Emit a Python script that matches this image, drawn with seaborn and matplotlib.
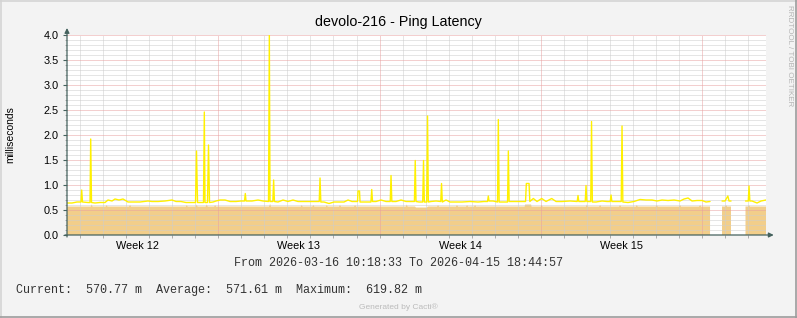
import numpy as np
import pandas as pd
import matplotlib
matplotlib.use("Agg")
import matplotlib.pyplot as plt
import seaborn as sns
from matplotlib.lines import Line2D
from matplotlib.ticker import FormatStrFormatter

sns.set_theme(style="white")
plt.rcParams["font.family"] = ["Liberation Sans", "DejaVu Sans"]

# ---------------- data ----------------
title = "devolo-216 - Ping Latency"
y_label = "milliseconds"
period_text = "From 2026-03-16 10:18:33 To 2026-04-15 18:44:57"
stats_text = "Current:  570.77 m  Average:  571.61 m  Maximum:  619.82 m"
footer_text = "Generated by Cacti\u00ae"
side_text = "RRDTOOL / TOBI OETIKER"

# x in days since 2026-03-16 00:00
x_start, x_end = 0.43, 30.78
week_labels = ["Week 12", "Week 13", "Week 14", "Week 15"]
week_centers = [3.5, 10.5, 17.5, 24.5]
week_bounds = [7, 14, 21, 28]

# yellow line (ping latency, ms) - three segments separated by data gaps
line1_day = [0.43, 0.647, 0.864, 1.038, 1.068, 1.103, 1.342, 1.429, 1.459, 1.494, 1.646, 1.863,
             2.080, 2.210, 2.384, 2.514, 2.688, 2.862, 3.079, 3.252, 3.600, 3.947, 4.121, 4.381,
             4.685, 4.989, 5.163, 5.380, 5.597, 5.858, 6.010, 6.053, 6.097, 6.205, 6.357, 6.392,
             6.422, 6.531, 6.574, 6.618, 6.770, 6.900, 7.074, 7.291, 7.508, 7.769, 7.985, 8.137,
             8.172, 8.203, 8.463, 8.724, 8.941, 9.180, 9.215, 9.245, 9.367, 9.402, 9.436, 9.592,
             9.809, 10.026, 10.243, 10.460, 10.721, 10.982, 11.155, 11.381, 11.416, 11.451, 11.589,
             11.806, 12.023, 12.284, 12.458, 12.632, 12.805, 13.044, 13.066, 13.131, 13.153, 13.326,
             13.500, 13.626, 13.661, 13.695, 13.847, 14.064, 14.282, 14.464, 14.499, 14.534, 14.716,
             14.933, 15.150, 15.324, 15.515, 15.550, 15.584, 15.715, 15.875, 15.910, 15.945, 16.049,
             16.084, 16.119, 16.235, 16.453, 16.657, 16.692, 16.726, 16.887, 17.061, 17.278, 17.581,
             17.929, 18.276, 18.537, 18.689, 18.723, 18.754, 18.928, 19.123, 19.158, 19.193, 19.362,
             19.558, 19.593, 19.627, 19.797, 20.014, 20.188, 20.340, 20.374, 20.492, 20.526, 20.678,
             20.838, 21.042, 21.229, 21.476, 21.663, 21.923, 22.271, 22.583, 22.618, 22.653, 22.792,
             22.931, 22.966, 23.001, 23.170, 23.205, 23.240, 23.400, 23.661, 23.878, 24.017, 24.052,
             24.087, 24.268, 24.494, 24.529, 24.564, 24.790, 25.050, 25.311, 25.572, 25.832, 26.049,
             26.266, 26.527, 26.787, 27.048, 27.222, 27.395, 27.569, 27.786, 28.003, 28.176, 28.350]
line1_ms = [0.64, 0.64, 0.66, 0.66, 0.90, 0.66, 0.65, 0.65, 1.92, 0.65, 0.64, 0.65,
            0.65, 0.70, 0.68, 0.72, 0.70, 0.72, 0.66, 0.66, 0.66, 0.68, 0.67, 0.67,
            0.68, 0.70, 0.67, 0.67, 0.65, 0.65, 0.65, 1.68, 0.65, 0.65, 0.65, 2.46,
            0.65, 0.65, 1.80, 0.65, 0.66, 0.68, 0.70, 0.70, 0.67, 0.67, 0.68, 0.68,
            0.83, 0.68, 0.68, 0.70, 0.68, 0.67, 4.00, 0.67, 0.67, 1.10, 0.67, 0.66,
            0.70, 0.67, 0.70, 0.67, 0.67, 0.67, 0.67, 0.67, 1.14, 0.66, 0.66,
            0.63, 0.66, 0.66, 0.66, 0.70, 0.67, 0.67, 0.88, 0.88, 0.66, 0.66,
            0.66, 0.66, 0.91, 0.67, 0.67, 0.70, 0.67, 0.67, 1.19, 0.67, 0.67,
            0.70, 0.67, 0.67, 0.67, 1.49, 0.67, 0.66, 0.66, 1.49, 0.66, 0.66,
            2.38, 0.66, 0.67, 0.68, 0.67, 1.03, 0.66, 0.70, 0.66, 0.66, 0.66,
            0.67, 0.66, 0.67, 0.67, 0.78, 0.68, 0.68, 0.66, 2.31, 0.66, 0.66,
            0.66, 1.68, 0.67, 0.67, 0.67, 0.67, 0.67, 1.03, 1.03, 0.67, 0.73,
            0.67, 0.73, 0.67, 0.73, 0.67, 0.67, 0.68, 0.67, 0.79, 0.67, 0.67,
            0.67, 0.99, 0.67, 0.67, 2.27, 0.66, 0.66, 0.68, 0.67, 0.67, 0.80,
            0.67, 0.67, 0.67, 2.18, 0.66, 0.65, 0.67, 0.71, 0.70, 0.70, 0.68,
            0.70, 0.69, 0.70, 0.68, 0.72, 0.74, 0.68, 0.69, 0.69, 0.66, 0.67]
line2_day = [28.871, 29.001, 29.123, 29.175, 29.262]
line2_ms = [0.68, 0.68, 0.78, 0.68, 0.68]
line3_day = [29.892, 30.010, 30.044, 30.079, 30.174, 30.391, 30.565, 30.782]
line3_ms = [0.68, 0.68, 0.98, 0.68, 0.68, 0.64, 0.68, 0.70]

# orange area (ms); NaN marks missing data
area_day = [0.43, 1.46, 1.50, 1.54, 2.11, 2.15, 2.19, 3.12, 3.17, 3.21, 5.59, 5.63, 5.67,
            6.02, 6.06, 6.10, 6.45, 6.50, 6.54, 6.82, 6.86, 6.90, 9.20, 9.25, 9.29,
            10.58, 10.62, 10.66, 11.08, 11.13, 11.17, 11.67, 11.71, 11.75, 12.24, 12.28, 12.33,
            12.89, 12.94, 12.98, 15.14, 15.18, 15.22, 15.54, 15.58, 16.06, 16.10,
            16.50, 16.54, 16.58, 17.32, 17.36, 17.41, 17.76, 17.80, 17.84, 18.10, 18.15, 18.19,
            20.30, 20.32, 20.58, 20.60, 21.00, 21.04, 21.08, 22.96, 23.00, 23.04,
            23.53, 23.58, 23.62, 24.40, 24.44, 24.49, 25.13, 25.17, 25.21, 25.99, 26.04, 26.08,
            27.00, 27.05, 27.09, 27.87, 27.92, 27.96, 28.35, 28.60,
            28.87, 29.00, 29.05, 29.09, 29.26, 29.50,
            29.89, 30.00, 30.04, 30.08, 30.78]
area_ms = [0.57, 0.57, 0.61, 0.57, 0.57, 0.60, 0.57, 0.57, 0.60, 0.57, 0.57, 0.60, 0.57,
           0.57, 0.61, 0.57, 0.57, 0.61, 0.57, 0.57, 0.60, 0.57, 0.57, 0.62, 0.57,
           0.57, 0.60, 0.57, 0.57, 0.60, 0.57, 0.57, 0.60, 0.57, 0.57, 0.60, 0.57,
           0.57, 0.60, 0.57, 0.57, 0.61, 0.57, 0.57, 0.55, 0.55, 0.57,
           0.57, 0.60, 0.57, 0.57, 0.60, 0.57, 0.57, 0.60, 0.57, 0.57, 0.60, 0.57,
           0.57, 0.61, 0.61, 0.57, 0.57, 0.60, 0.57, 0.57, 0.61, 0.57,
           0.57, 0.60, 0.57, 0.57, 0.60, 0.57, 0.57, 0.60, 0.57, 0.57, 0.60, 0.57,
           0.57, 0.60, 0.57, 0.57, 0.60, 0.57, 0.57, np.nan,
           0.57, 0.57, 0.60, 0.57, 0.57, np.nan,
           0.57, 0.57, 0.60, 0.57, 0.57]

# ---------------- styling ----------------
BG = "#F3F3F3"
AXIS_C = "#45625E"
MINOR_GRID = "#CDCDCD"
MAJOR_GRID = "#E9A0A0"
AREA_C = "#F2CE8A"
LINE_C = "#FFF000"

W, H = 797, 318
fig = plt.figure(figsize=(W / 100, H / 100), dpi=100, facecolor=BG)
L, R, T, B = 67, 766, 35, 235
ax = fig.add_axes([L / W, 1 - B / H, (R - L) / W, (B - T) / H])
ax.set_facecolor("white")

# area
area_x = np.array(area_day, dtype=float)
area_y = np.array(area_ms, dtype=float)
ax.fill_between(area_x, 0, area_y, color=AREA_C, linewidth=0, zorder=1)

# grid (drawn over the area, below the line)
for d in range(1, 31):
    if d not in week_bounds:
        ax.axvline(d, color=MINOR_GRID, lw=0.72, ls=(0, (1, 1)), zorder=1.5)
for v in np.round(np.arange(0.1, 4.01, 0.1), 1):
    if abs(v * 2 - round(v * 2)) > 1e-6:
        ax.axhline(v, color=MINOR_GRID, lw=0.72, ls=(0, (1, 1)), zorder=1.5)
for d in week_bounds:
    ax.axvline(d, color=MAJOR_GRID, lw=0.72, ls=(0, (1, 1)), zorder=1.6)
for v in [0.5, 1.0, 1.5, 2.0, 2.5, 3.0, 3.5, 4.0]:
    ax.axhline(v, color=MAJOR_GRID, lw=0.72, ls=(0, (1, 1)), zorder=1.6)

# line via seaborn
df = pd.concat([
    pd.DataFrame({"day": line1_day, "ms": line1_ms, "seg": 1}),
    pd.DataFrame({"day": line2_day, "ms": line2_ms, "seg": 2}),
    pd.DataFrame({"day": line3_day, "ms": line3_ms, "seg": 3}),
])
sns.lineplot(data=df, x="day", y="ms", units="seg", estimator=None, sort=False,
             color=LINE_C, lw=1.0, ax=ax, zorder=3, legend=False)

ax.set_xlim(x_start, x_end)
ax.set_ylim(0, 4.0)
for s in ax.spines.values():
    s.set_visible(False)
ax.set_xlabel("")
ax.set_ylabel("")

ax.set_yticks(np.arange(0, 4.01, 0.5))
ax.set_yticks(np.arange(0, 4.01, 0.1), minor=True)
ax.yaxis.set_major_formatter(FormatStrFormatter("%.1f"))
ax.tick_params(axis="y", which="major", length=3, width=0.8, color=AXIS_C, pad=3,
               labelsize=7.8, labelcolor="black", left=True)
ax.tick_params(axis="y", which="minor", length=1.5, width=0.6, color="#A0A0A0", left=True)

ax.set_xticks(week_centers)
ax.set_xticklabels(week_labels)
ax.set_xticks(list(range(1, 31)), minor=True)
ax.tick_params(axis="x", which="major", length=0, pad=4, labelsize=7.8, labelcolor="black")
ax.tick_params(axis="x", which="minor", length=2, width=0.6, color="#A0A0A0", bottom=True)
ax.grid(False)

# axes with arrows
ax.annotate("", xy=(0, 1.035), xytext=(0, -0.01), xycoords="axes fraction",
            arrowprops=dict(arrowstyle="-|>", color=AXIS_C, lw=0.9, mutation_scale=7,
                            shrinkA=0, shrinkB=0), annotation_clip=False, zorder=5)
ax.annotate("", xy=(1.011, 0), xytext=(-0.003, 0), xycoords="axes fraction",
            arrowprops=dict(arrowstyle="-|>", color=AXIS_C, lw=0.9, mutation_scale=7,
                            shrinkA=0, shrinkB=0), annotation_clip=False, zorder=5)

# texts
fig.text(0.5, 1 - 22 / H, title, ha="center", va="center", fontsize=10.3, color="black")
fig.text(10 / W, 1 - 135 / H, y_label, rotation=90, ha="center", va="center",
         fontsize=7.5, color="black")
fig.text(398.5 / W, 1 - 263 / H, period_text, ha="center", va="center",
         fontsize=8.5, family=["Liberation Mono", "DejaVu Sans Mono"], color="#333333")
fig.text(16 / W, 1 - 290 / H, stats_text, ha="left", va="center",
         fontsize=8.5, family=["Liberation Mono", "DejaVu Sans Mono"], color="#333333")
fig.text(398 / W, 1 - 307 / H, footer_text, ha="center", va="center",
         fontsize=6.0, color="#BBBBBB")
fig.text(789 / W, 1 - 56 / H, side_text, rotation=-90, ha="center", va="center",
         fontsize=5.8, color="#B5B5B5")

# frame around the image
fig.add_artist(Line2D([0, 1], [1 - 0.5 / H, 1 - 0.5 / H], transform=fig.transFigure,
                      color="#D4D4D4", lw=1.2))
fig.add_artist(Line2D([0.5 / W, 0.5 / W], [0, 1], transform=fig.transFigure,
                      color="#D4D4D4", lw=1.2))
fig.add_artist(Line2D([0, 1], [1.5 / H, 1.5 / H], transform=fig.transFigure,
                      color="#9C9C9C", lw=1.2))
fig.add_artist(Line2D([1 - 1.5 / W, 1 - 1.5 / W], [0, 1], transform=fig.transFigure,
                      color="#9C9C9C", lw=1.2))

fig.savefig("out.png", dpi=100, facecolor=BG)
